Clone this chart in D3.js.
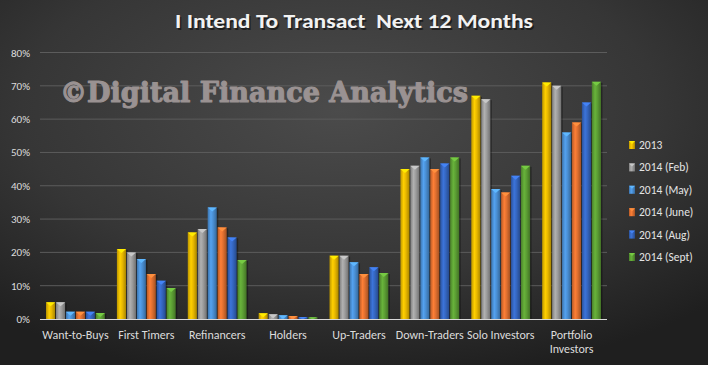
<!DOCTYPE html>
<html><head><meta charset="utf-8">
<script src="https://cdn.jsdelivr.net/npm/d3@7"></script>
<style>html,body{margin:0;padding:0;background:#2a2a2a;}svg{display:block;}</style>
</head><body>
<script>
const categories = ["Want-to-Buys","First Timers","Refinancers","Holders","Up-Traders","Down-Traders","Solo Investors","Portfolio Investors"];
const seriesNames = ["2013","2014 (Feb)","2014 (May)","2014 (June)","2014 (Aug)","2014 (Sept)"];
const s2013     = [5.0, 21.0, 26.0, 1.7, 19.0, 45.0, 67.0, 71.0];
const s2014Feb  = [5.0, 20.0, 27.0, 1.4, 19.0, 46.0, 66.0, 70.0];
const s2014May  = [2.2, 18.0, 33.5, 1.1, 17.0, 48.5, 39.0, 56.0];
const s2014June = [2.2, 13.5, 27.5, 0.9, 13.5, 45.0, 38.0, 59.0];
const s2014Aug  = [2.2, 11.5, 24.5, 0.6, 15.5, 46.7, 43.0, 65.0];
const s2014Sept = [1.8,  9.3, 17.7, 0.5, 13.8, 48.5, 46.0, 71.2];
const yTicks = [0,10,20,30,40,50,60,70,80];
const title = "I Intend To Transact  Next 12 Months";
const watermark = "©Digital Finance Analytics";

const seriesValues = [s2013, s2014Feb, s2014May, s2014June, s2014Aug, s2014Sept];
const colors = ["#e8b800","#9c9c9c","#4a8fd4","#e07030","#3566c0","#5c9e34"];

const W = 708, H = 365;
const svg = d3.select("body").append("svg").attr("width", W).attr("height", H);
const defs = svg.append("defs");

const bg = defs.append("radialGradient").attr("id","bg").attr("cx","0.48").attr("cy","0.3").attr("r","0.75");
bg.append("stop").attr("offset","0").attr("stop-color","#4b4b4b");
bg.append("stop").attr("offset","0.6").attr("stop-color","#363636");
bg.append("stop").attr("offset","1").attr("stop-color","#1f1f1f");
svg.append("rect").attr("width",W).attr("height",H).attr("fill","url(#bg)");

colors.forEach((c,i)=>{
  const g = defs.append("linearGradient").attr("id","g"+i).attr("x1","0").attr("x2","1").attr("y1","0").attr("y2","0");
  const base = d3.color(c);
  g.append("stop").attr("offset","0").attr("stop-color", base.darker(0.6));
  g.append("stop").attr("offset","0.35").attr("stop-color", base.brighter(0.35));
  g.append("stop").attr("offset","0.6").attr("stop-color", base);
  g.append("stop").attr("offset","1").attr("stop-color", base.darker(0.9));
});

const pLeft = 40, pRight = 607, pTop = 52.5, pBottom = 319;
const x0 = d3.scaleBand().domain(categories).range([pLeft, pRight]).paddingInner(0.17).paddingOuter(0.085);
const x1 = d3.scaleBand().domain(seriesNames).range([0, x0.bandwidth()]).paddingInner(0.08);
const y = d3.scaleLinear().domain([0,80]).range([pBottom, pTop]);

// gridlines
svg.append("g").selectAll("line").data(yTicks.filter(d=>d>0)).join("line")
  .attr("x1",pLeft).attr("x2",pRight).attr("y1",d=>y(d)).attr("y2",d=>y(d))
  .attr("stroke","#5c5c5c").attr("stroke-width",1);

// y axis labels
const yAxis = d3.axisLeft(y).tickValues(yTicks).tickFormat(d=>d+"%").tickSize(0).tickPadding(0);
const ya = svg.append("g").attr("transform",`translate(${pLeft-10},0)`).call(yAxis);
ya.select(".domain").remove();
ya.selectAll("text").attr("fill","#dcdcdc").style("font-family","Carlito, 'Liberation Sans Narrow', 'Liberation Sans', sans-serif").style("font-size","11px");

// watermark
svg.append("text").attr("x",60).attr("y",102).text(watermark)
  .attr("textLength",408).attr("lengthAdjust","spacingAndGlyphs")
  .style("font-family","'DejaVu Serif', 'Liberation Serif', serif").style("font-weight","bold").style("font-size","27px")
  .attr("fill","#9a9292").attr("stroke","#9a9292").attr("stroke-width",1.1).attr("stroke-linejoin","round");

// bars
const groups = svg.append("g").selectAll("g").data(categories).join("g")
  .attr("transform", d=>`translate(${x0(d)},0)`);
groups.each(function(cat, ci){
  const g = d3.select(this);
  const data = seriesNames.map((s,si)=>({s, si, v: seriesValues[si][ci]}));
  const bw = x1.bandwidth();
  g.selectAll("rect.shadow").data(data).join("rect").attr("class","shadow")
    .attr("x", d=>x1(d.s)+1.5).attr("y", d=>y(d.v)+1).attr("width", bw).attr("height", d=>pBottom-y(d.v)-1)
    .attr("fill","#000").attr("opacity",0.35);
  g.selectAll("rect.bar").data(data).join("rect").attr("class","bar")
    .attr("x", d=>x1(d.s)).attr("y", d=>y(d.v)).attr("width", bw).attr("height", d=>pBottom-y(d.v))
    .attr("fill", d=>`url(#g${d.si})`);
  g.selectAll("path.cap").data(data).join("path").attr("class","cap")
    .attr("d", d=>{const xx=x1(d.s), yy=y(d.v), h=Math.min(4, (pBottom-yy)); return `M${xx},${yy}L${xx+bw},${yy}L${xx+bw/2},${yy+h}Z`;})
    .attr("fill", d=>d3.color(colors[d.si]).brighter(0.7));
});

// x axis line
svg.append("line").attr("x1",pLeft).attr("x2",pRight).attr("y1",pBottom+0.5).attr("y2",pBottom+0.5)
  .attr("stroke","#d8d8d8").attr("stroke-width",1.2);

// category labels
const xl = svg.append("g");
categories.forEach(c=>{
  const cx = x0(c) + x0.bandwidth()/2;
  const lines = c === "Portfolio Investors" ? ["Portfolio","Investors"] : [c];
  lines.forEach((t,i)=>{
    xl.append("text").attr("x",cx).attr("y",339 + i*14).attr("text-anchor","middle").text(t)
      .attr("fill","#dcdcdc").style("font-family","Carlito, 'Liberation Sans Narrow', 'Liberation Sans', sans-serif").style("font-size","12px");
  });
});

// legend
const lg = svg.append("g");
seriesNames.forEach((s,i)=>{
  const cy = 145 + i*22.4;
  lg.append("rect").attr("x",629).attr("y",cy-4).attr("width",6).attr("height",8).attr("fill",`url(#g${i})`);
  lg.append("path").attr("d",`M629,${cy-4}L635,${cy-4}L632,${cy-1}Z`).attr("fill",d3.color(colors[i]).brighter(0.7));
  lg.append("text").attr("x",639).attr("y",cy+4).text(s)
    .attr("fill","#e4e4e4").style("font-family","Carlito, 'Liberation Sans Narrow', 'Liberation Sans', sans-serif").style("font-size","11.5px");
});

// title
svg.append("text").attr("x",354).attr("y",28).attr("text-anchor","middle").text(title)
  .attr("textLength",358).attr("lengthAdjust","spacingAndGlyphs")
  .attr("fill","#000").attr("opacity",0.5).attr("transform","translate(1.5,1.5)")
  .style("font-family","Carlito, 'Open Sans', 'Liberation Sans', sans-serif").style("font-weight","bold").style("font-size","20px")
  .style("white-space","pre");
svg.append("text").attr("x",354).attr("y",28).attr("text-anchor","middle").text(title)
  .attr("textLength",358).attr("lengthAdjust","spacingAndGlyphs")
  .attr("fill","#f2f2f2")
  .style("font-family","Carlito, 'Open Sans', 'Liberation Sans', sans-serif").style("font-weight","bold").style("font-size","20px")
  .style("white-space","pre");
</script>
</body></html>
